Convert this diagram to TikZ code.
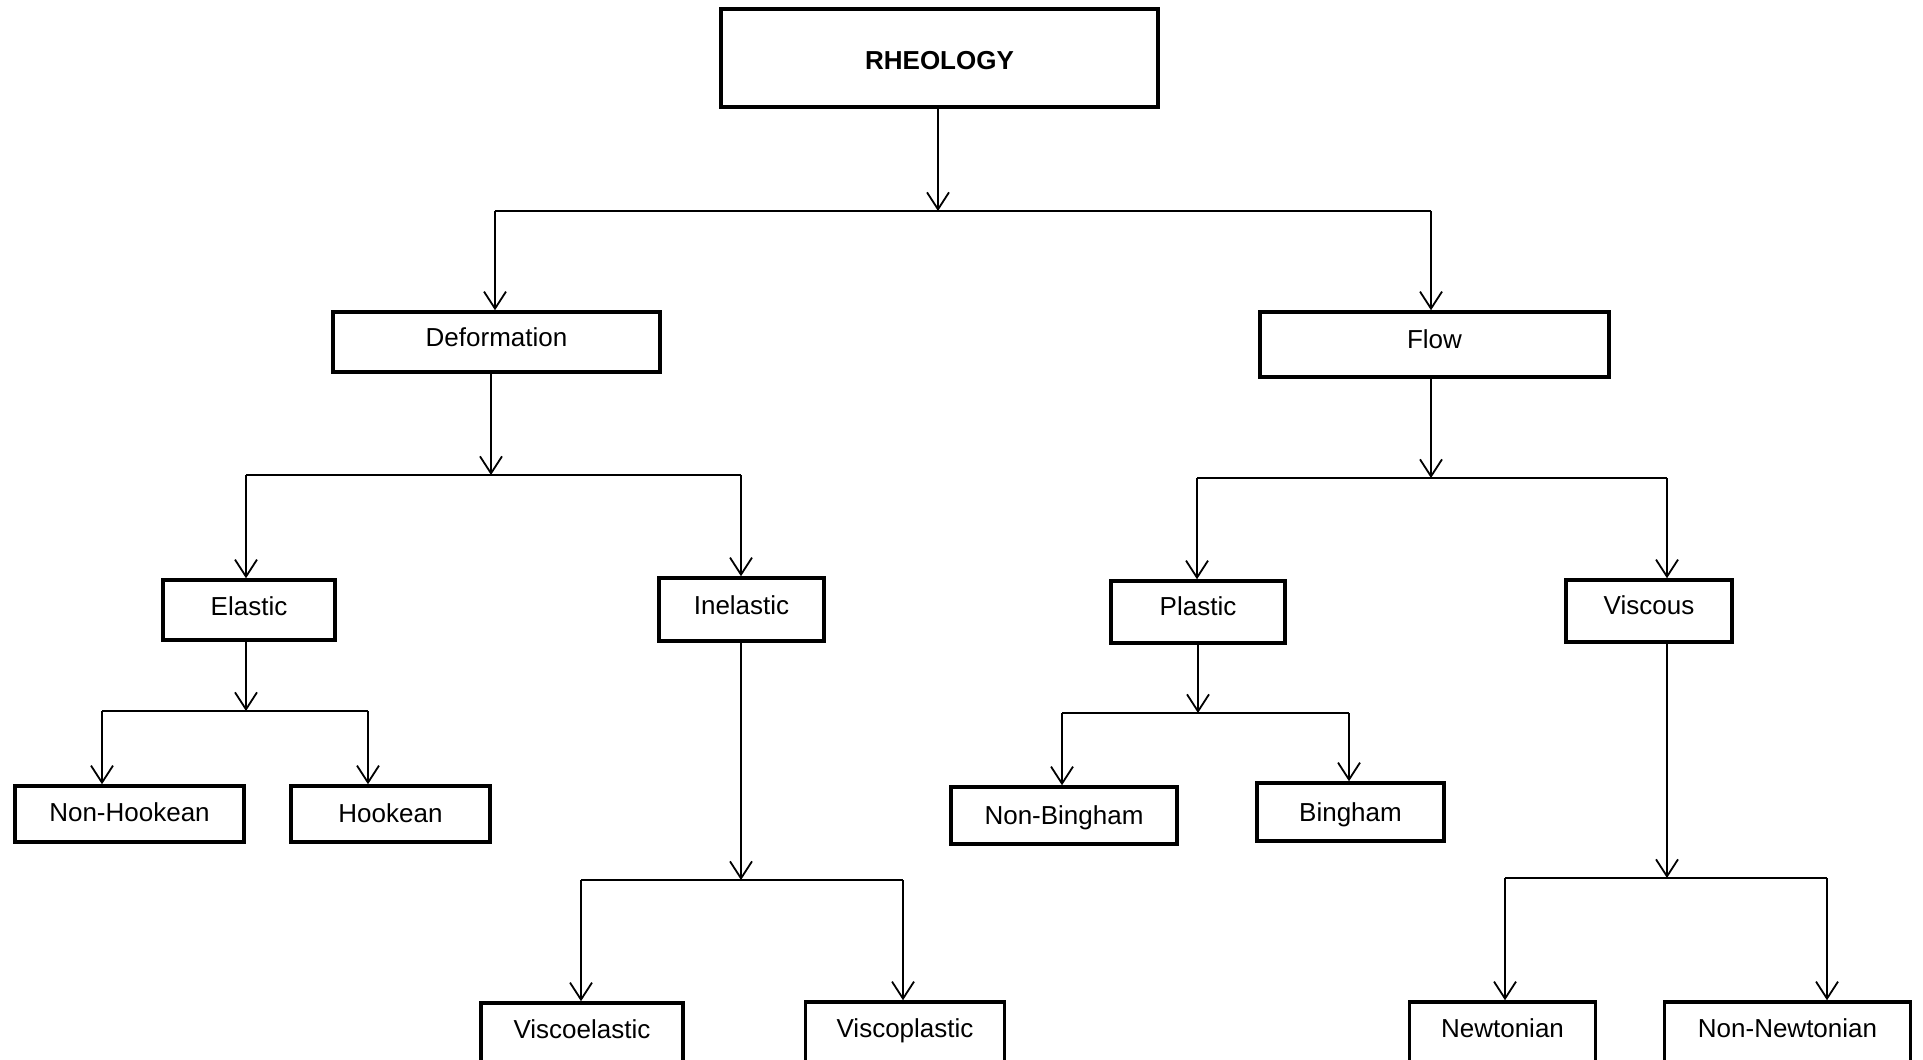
\documentclass[tikz,border=0pt]{standalone}
\usepackage{fontspec}
\setmainfont{Liberation Sans}
\usetikzlibrary{arrows.meta}
\begin{document}
\begin{tikzpicture}[x=1pt,y=-1pt,
  box/.style={draw=black, line width=3.5pt, rectangle, inner sep=0pt, font=\fontsize{26}{30}\selectfont},
  lift/.style={text height=19pt, text depth=#1},
  conn/.style={draw=black, line width=1.8pt},
  arr/.style={conn, -{Straight Barb[length=17pt,width=22pt,line width=1.8pt]}}]
\useasboundingbox (0,0) rectangle (1923,1060);
\clip (0,0) rectangle (1923,1060);
\fill[white] (0,0) rectangle (1923,1060);
% nodes
\node[box, minimum width=437pt, minimum height=98pt, text height=23pt, text depth=0pt, font=\fontsize{26}{30}\selectfont\bfseries] (rheo) at (939.5,58) {RHEOLOGY};
\node[box, lift=10pt, minimum width=327pt, minimum height=60pt] (deform) at (496.5,342) {Deformation};
\node[box, lift=12pt, minimum width=349pt, minimum height=65pt] (flow) at (1434.5,344.5) {Flow};
\node[box, lift=8pt, minimum width=172pt, minimum height=60pt] (elastic) at (249,610) {Elastic};
\node[box, lift=10pt, minimum width=165pt, minimum height=63pt] (inelastic) at (741.5,609.5) {Inelastic};
\node[box, lift=12pt, minimum width=174pt, minimum height=62pt] (plastic) at (1198,612) {Plastic};
\node[box, lift=12pt, minimum width=166pt, minimum height=62pt] (viscous) at (1649,611) {Viscous};
\node[box, lift=4pt, minimum width=229pt, minimum height=56pt] (nonhook) at (129.5,814) {Non-Hookean};
\node[box, lift=2pt, minimum width=199pt, minimum height=56pt] (hook) at (390.5,814) {Hookean};
\node[box, lift=2pt, minimum width=226pt, minimum height=57pt] (nonbing) at (1064,815.5) {Non-Bingham};
\node[box, lift=0pt, minimum width=187pt, minimum height=58pt] (bing) at (1350.5,812) {Bingham};
\node[box, lift=18pt, minimum width=202pt, minimum height=70pt] (viscoel) at (582,1038) {Viscoelastic};
\node[box, lift=18pt, minimum width=199pt, minimum height=70pt] (viscopl) at (905,1037) {Viscoplastic};
\node[box, lift=18pt, minimum width=186pt, minimum height=70pt] (newt) at (1502.5,1037) {Newtonian};
\node[box, lift=18pt, minimum width=246pt, minimum height=70pt] (nonnewt) at (1787.5,1037) {Non-Newtonian};
% junctions
\coordinate (j0) at (938,211);
\coordinate (j0L) at (495,211);
\coordinate (j0R) at (1431,211);
\coordinate (j1) at (491,475);
\coordinate (j1L) at (246,475);
\coordinate (j1R) at (741,475);
\coordinate (j2) at (1431,478);
\coordinate (j2L) at (1197,478);
\coordinate (j2R) at (1667,478);
\coordinate (j3) at (246,711);
\coordinate (j3L) at (102,711);
\coordinate (j3R) at (368,711);
\coordinate (j4) at (741,880);
\coordinate (j4L) at (581,880);
\coordinate (j4R) at (903,880);
\coordinate (j5) at (1198,713);
\coordinate (j5L) at (1062,713);
\coordinate (j5R) at (1349,713);
\coordinate (j6) at (1667,878);
\coordinate (j6L) at (1505,878);
\coordinate (j6R) at (1827,878);
% connectors
\draw[arr] (rheo.south -| j0) -- (j0);
\draw[conn] (j0L) -- (j0R);
\draw[arr] (j0L) -- (deform.north -| j0L);
\draw[arr] (j0R) -- (flow.north -| j0R);

\draw[arr] (deform.south -| j1) -- (j1);
\draw[conn] (j1L) -- (j1R);
\draw[arr] (j1L) -- (elastic.north -| j1L);
\draw[arr] (j1R) -- (inelastic.north -| j1R);

\draw[arr] (flow.south -| j2) -- (j2);
\draw[conn] (j2L) -- (j2R);
\draw[arr] (j2L) -- (plastic.north -| j2L);
\draw[arr] (j2R) -- (viscous.north -| j2R);

\draw[arr] (elastic.south -| j3) -- (j3);
\draw[conn] (j3L) -- (j3R);
\draw[arr] (j3L) -- (nonhook.north -| j3L);
\draw[arr] (j3R) -- (hook.north -| j3R);

\draw[arr] (inelastic.south -| j4) -- (j4);
\draw[conn] (j4L) -- (j4R);
\draw[arr] (j4L) -- (viscoel.north -| j4L);
\draw[arr] (j4R) -- (viscopl.north -| j4R);

\draw[arr] (plastic.south -| j5) -- (j5);
\draw[conn] (j5L) -- (j5R);
\draw[arr] (j5L) -- (nonbing.north -| j5L);
\draw[arr] (j5R) -- (bing.north -| j5R);

\draw[arr] (viscous.south -| j6) -- (j6);
\draw[conn] (j6L) -- (j6R);
\draw[arr] (j6L) -- (newt.north -| j6L);
\draw[arr] (j6R) -- (nonnewt.north -| j6R);
\end{tikzpicture}
\end{document}
